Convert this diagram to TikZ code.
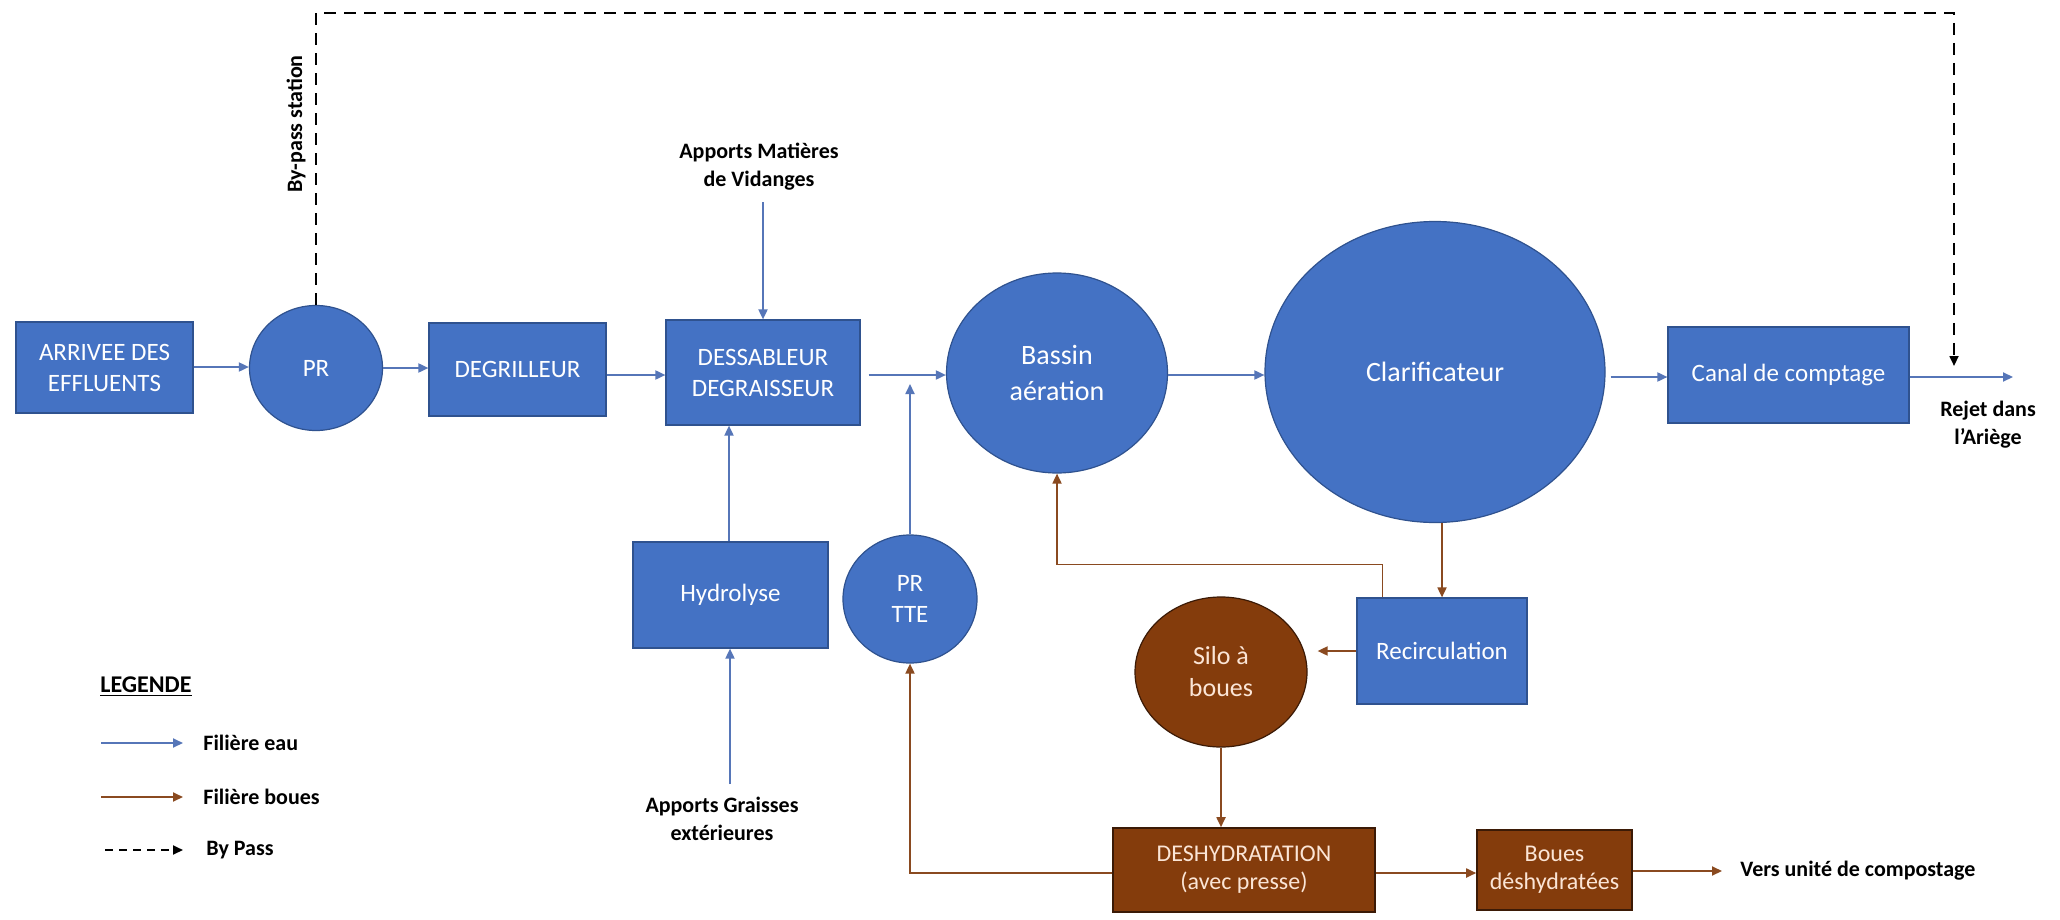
\documentclass[tikz,border=0pt]{standalone}
\usepackage{fontspec}
\setmainfont{Carlito}
\usetikzlibrary{arrows.meta,shapes.geometric,calc}
\definecolor{bluefill}{HTML}{4472C4}
\definecolor{blueline}{HTML}{2F528F}
\definecolor{brownfill}{HTML}{843C0C}
\definecolor{brownline}{HTML}{3B1A06}
\definecolor{browntext}{HTML}{FBE5D6}
\definecolor{flowblue}{HTML}{5676B8}
\definecolor{flowbrown}{HTML}{8A4A20}
\tikzset{
  bluebox/.style={rectangle, fill=bluefill, draw=blueline, line width=0.6pt, text=white,
    font=\fontsize{12.5}{15.5}\selectfont, align=center, inner sep=0pt},
  blueell/.style={ellipse, fill=bluefill, draw=blueline, line width=0.6pt, text=white,
    font=\fontsize{12.5}{15.5}\selectfont, align=center, inner sep=0pt},
  brownbox/.style={rectangle, fill=brownfill, draw=brownline, line width=0.8pt, text=browntext,
    font=\fontsize{12}{14}\selectfont, align=center, inner sep=0pt},
  brownell/.style={ellipse, fill=brownfill, draw=brownline, line width=0.6pt, text=browntext,
    font=\fontsize{13}{16}\selectfont, align=center, inner sep=0pt},
  wflow/.style={draw=flowblue, line width=0.9pt, -{Triangle[length=5pt,width=4.5pt]}},
  sflow/.style={draw=flowbrown, line width=0.9pt, -{Triangle[length=5pt,width=4.5pt]}},
  bypassline/.style={draw=black, line width=0.9pt, dash pattern=on 6pt off 4pt,
    -{Triangle[length=5pt,width=4.5pt]}},
  lbl/.style={font=\bfseries\fontsize{11}{14}\selectfont, align=center, inner sep=0pt}
}
\begin{document}
\begin{tikzpicture}[x=0.5pt,y=-0.5pt]
\useasboundingbox[fill=white] (0,0) rectangle (2060,920);

% main water line nodes
\node[bluebox, minimum width=88.5pt, minimum height=45.5pt] (arr) at (104.5,367.5) {ARRIVEE DES\\EFFLUENTS};
\node[blueell, minimum width=66.5pt, minimum height=62.5pt] (pr) at (316,368) {PR};
\node[bluebox, minimum width=88.5pt, minimum height=46.5pt] (degr) at (517.5,369.5) {DEGRILLEUR};
\node[bluebox, minimum width=97pt, minimum height=52.5pt] (dess) at (763,372.5) {DESSABLEUR\\DEGRAISSEUR};
\node[blueell, minimum width=110.5pt, minimum height=100pt, font=\fontsize{14}{18}\selectfont] (bassin) at (1057,373) {Bassin\\aération};
\node[blueell, minimum width=170pt, minimum height=150.5pt, font=\fontsize{14}{17}\selectfont] (clarif) at (1435,372) {Clarificateur};
\node[bluebox, minimum width=120.5pt, minimum height=48pt] (canal) at (1788.5,375) {Canal de comptage};

% lower nodes
\node[bluebox, minimum width=97.5pt, minimum height=53pt] (hydro) at (730.5,595) {Hydrolyse};
\node[blueell, minimum width=67pt, minimum height=64pt] (prtte) at (910,599) {PR\\TTE};
\node[bluebox, minimum width=85pt, minimum height=53pt] (recirc) at (1442,651) {Recirculation};
\node[brownell, minimum width=86pt, minimum height=75pt] (silo) at (1221,672) {Silo à\\boues};
\node[brownbox, minimum width=131pt, minimum height=42pt] (deshy) at (1244,870) {DESHYDRATATION\\(avec presse)};
\node[brownbox, minimum width=77.5pt, minimum height=40pt] (boues) at (1554.5,870) {Boues\\déshydratées};

% labels
\node[lbl] (vid) at (759,167) {Apports Matières\\de Vidanges};
\node[lbl] (grai) at (722,819) {Apports Graisses\\extérieures};
\node[lbl] (rejet) at (1988,425) {Rejet dans\\l’Ariège};
\node[lbl, anchor=west] (vers) at (1740,871) {Vers unité de compostage};
\node[lbl, rotate=90] (bpst) at (296,124) {By-pass station};

% coordinates
\coordinate (vidend) at (763,202);
\coordinate (graiend) at (730,784);
\coordinate (ttejoin) at (910,384);
\coordinate (rejetend) at (2013,377);
\coordinate (versend) at (1722,871);
\coordinate (bpend) at (1954,366);

% water connectors
\draw[wflow] (arr.east |- 0,367) -- (pr.west |- 0,367);
\draw[wflow] (pr.east |- 0,368) -- (degr.west |- 0,368);
\draw[wflow] (degr.east |- 0,375) -- (dess.west |- 0,375);
\draw[wflow] ($(dess.east |- 0,375)+(8,0)$) -- (bassin.west |- 0,375);
\draw[wflow] (bassin.east |- 0,375) -- (clarif.west |- 0,375);
\draw[wflow] ($(clarif.east |- 0,377)+(5,0)$) -- (canal.west |- 0,377);
\draw[wflow] (canal.east |- 0,377) -- (rejetend);
\draw[wflow] (vidend) -- (vidend |- dess.north);
\draw[wflow] (hydro.north -| 729,0) -- (dess.south -| 729,0);
\draw[wflow] (graiend) -- (graiend |- hydro.south);
\draw[wflow] (prtte.north) -- (ttejoin);

% sludge connectors
\draw[sflow] (recirc.north |- clarif.south) -- (recirc.north);
\draw[sflow] ([xshift=13pt]recirc.north west) -- ++(0,-33) -| (bassin.south);
\draw[sflow, shorten >=5pt] (recirc.west) -- (recirc.west -| silo.east);
\draw[sflow] (silo.south) -- (silo.south |- deshy.north);
\draw[sflow] (deshy.west |- 0,873) -| (prtte.south);
\draw[sflow] (deshy.east |- 0,873) -- (boues.west |- 0,873);
\draw[sflow] (boues.east |- versend) -- (versend);

% bypass
\draw[bypassline] (pr.north) -- ++(0,-292) -| (bpend);

% legend
\node[lbl, anchor=west, font=\bfseries\fontsize{12}{14}\selectfont] (leg) at (100,687) {\underline{LEGENDE}};
\coordinate (l1a) at (101,743); \coordinate (l1b) at (183,743);
\coordinate (l2a) at (101,797); \coordinate (l2b) at (183,797);
\coordinate (l3a) at (105,850); \coordinate (l3b) at (183,850);
\draw[wflow] (l1a) -- (l1b);
\draw[sflow] (l2a) -- (l2b);
\draw[bypassline, dash pattern=on 4pt off 3pt] (l3a) -- (l3b);
\node[lbl, anchor=west] (leau) at (203,743) {Filière eau};
\node[lbl, anchor=west] (lboues) at (203,797) {Filière boues};
\node[lbl, anchor=west] (lbp) at (206,850) {By Pass};
\end{tikzpicture}
\end{document}
